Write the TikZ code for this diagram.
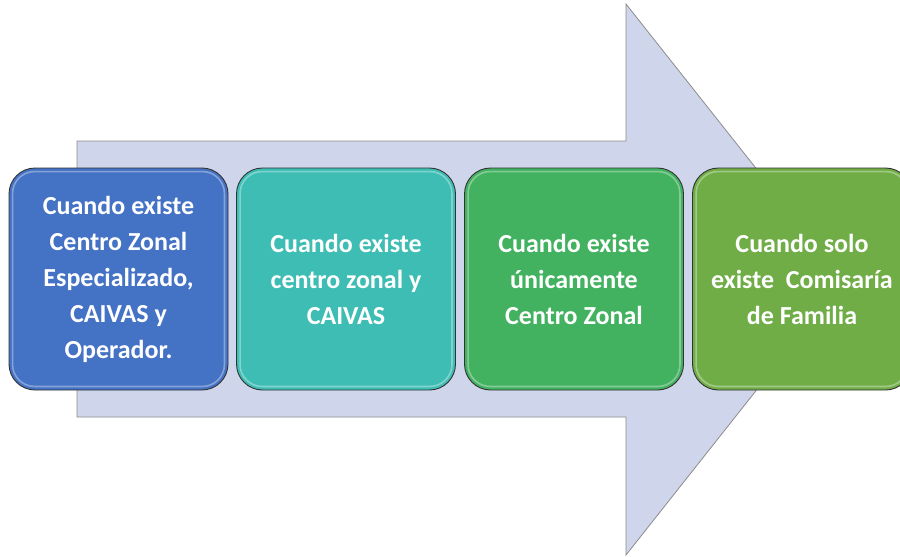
\documentclass[tikz,border=0pt]{standalone}
\usepackage{fontspec}
\setmainfont{Carlito}
\definecolor{arrowfill}{HTML}{CFD5EA}
\definecolor{arrowline}{HTML}{8C8C8C}
\definecolor{cblue}{HTML}{4472C4}
\definecolor{cteal}{HTML}{3EBDB4}
\definecolor{cgreen}{HTML}{42B160}
\definecolor{clime}{HTML}{70AD47}
\tikzset{
  stagebox/.style={draw=black!80, line width=0.9pt, rounded corners=26pt, minimum width=219pt, minimum height=222pt,
    inner sep=0pt, text=white, align=center, font=\fontsize{26}{36}\selectfont\bfseries},
  shine/.style={draw=white, draw opacity=0.35, line width=1.6pt, rounded corners=22pt}
}
\begin{document}
\begin{tikzpicture}[x=1pt,y=-1pt]
\useasboundingbox (0,0) rectangle (900,557);
\draw[fill=arrowfill, draw=arrowline, line width=0.8pt]
  (77,141) -- (626,141) -- (626,4) -- (844,279.5) -- (626,555) -- (626,417) -- (77,417) -- cycle;
\node[stagebox, fill=cblue] (b1) at (118.5,279) {Cuando existe\\Centro Zonal\\Especializado,\\CAIVAS y\\Operador.};
\node[stagebox, fill=cteal] (b2) at (346,279) {Cuando existe\\centro zonal y\\CAIVAS};
\node[stagebox, fill=cgreen] (b3) at (574,279) {Cuando existe\\únicamente\\Centro Zonal};
\node[stagebox, fill=clime] (b4) at (802,279) {Cuando solo\\existe~~Comisaría\\de Familia};
\foreach \b in {b1,b2,b3,b4}{
  \draw[shine] ([xshift=4pt,yshift=4pt]\b.south west) rectangle ([xshift=-4pt,yshift=-4pt]\b.north east);
}
\end{tikzpicture}
\end{document}
